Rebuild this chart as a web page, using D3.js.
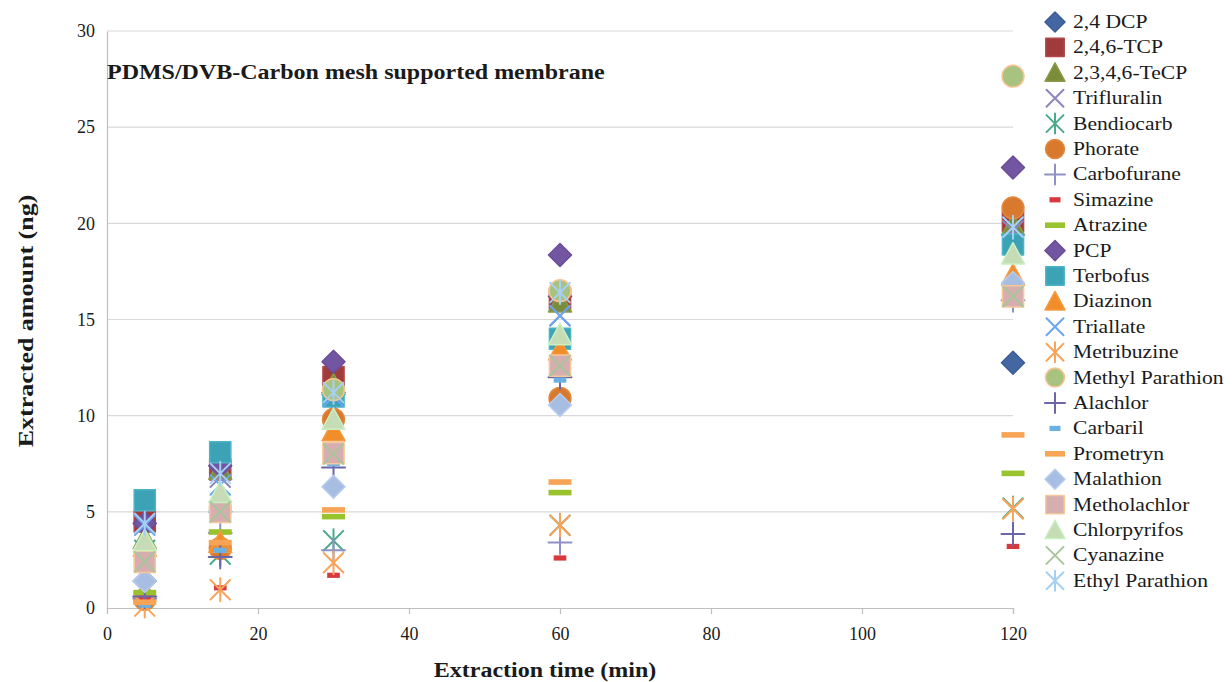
<!DOCTYPE html>
<html>
<head>
<meta charset="utf-8">
<script src="https://cdn.jsdelivr.net/npm/d3@7"></script>
<style>
  html, body { margin: 0; padding: 0; background: #fff; }
  svg { display: block; }
</style>
</head>
<body>
<svg id="chart" width="1232" height="682"></svg>
<script>
// Extraction times (min)
const times = [5, 15, 30, 60, 120];
const xTicks = [0, 20, 40, 60, 80, 100, 120];
const yTicks = [0, 5, 10, 15, 20, 25, 30];

// Extracted amount (ng) per analyte at each extraction time
const dcp24          = [1.4, 5.0, 11.2, 16.2, 12.75];
const tcp246         = [4.5, 7.2, 12.0, 16.1, 20.1];
const tecp2346       = [3.6, 7.2, 11.6, 15.9, 19.9];
const trifluralin    = [4.4, 6.8, 10.5, 15.2, 19.6];
const bendiocarb     = [3.0, 2.8, 3.5, 4.3, 5.2];
const phorate        = [0.45, 3.1, 9.8, 10.9, 20.8];
const carbofurane    = [0.5, 3.9, 3.0, 3.4, 16.0];
const simazine       = [0.5, 1.05, 1.7, 2.6, 3.2];
const atrazine       = [0.8, 3.95, 4.75, 6.0, 7.0];
const pcp            = [4.4, 7.4, 12.8, 18.35, 22.9];
const terbofus       = [5.6, 8.1, 11.0, 14.0, 18.9];
const diazinon       = [3.2, 3.4, 9.2, 13.4, 17.3];
const triallate      = [4.3, 6.4, 11.0, 15.2, 19.8];
const metribuzine    = [0.1, 0.95, 2.35, 4.3, 5.15];
const methylParathion= [2.9, 5.2, 11.35, 16.5, 27.65];
const alachlor       = [0.6, 2.65, 7.3, 12.0, 3.85];
const carbaril       = [0.15, 3.0, 7.5, 11.85, 16.8];
const prometryn      = [0.3, 3.4, 5.1, 6.55, 9.0];
const malathion      = [1.4, 5.0, 6.3, 10.55, 16.9];
const metholachlor   = [2.4, 5.0, 8.05, 12.6, 16.2];
const chlorpyrifos   = [3.5, 6.0, 9.8, 14.2, 18.4];
const cyanazine      = [2.4, 5.0, 8.0, 12.6, 16.2];
const ethylParathion = [4.4, 7.0, 11.2, 16.4, 19.8];

const seriesNames = ["2,4 DCP", "2,4,6-TCP", "2,3,4,6-TeCP", "Trifluralin", "Bendiocarb",
  "Phorate", "Carbofurane", "Simazine", "Atrazine", "PCP", "Terbofus", "Diazinon",
  "Triallate", "Metribuzine", "Methyl Parathion", "Alachlor", "Carbaril", "Prometryn",
  "Malathion", "Metholachlor", "Chlorpyrifos", "Cyanazine", "Ethyl Parathion"];
const seriesValues = [dcp24, tcp246, tecp2346, trifluralin, bendiocarb, phorate, carbofurane,
  simazine, atrazine, pcp, terbofus, diazinon, triallate, metribuzine, methylParathion,
  alachlor, carbaril, prometryn, malathion, metholachlor, chlorpyrifos, cyanazine, ethylParathion];

// Marker look for each series (same order as seriesNames)
const markerStyles = [
  { shape: "diamond",  fill: "#4467a3", stroke: "#3b5c96" },
  { shape: "square",   fill: "#a13a3b", stroke: "#b04a4a" },
  { shape: "triangle", fill: "#7b8d3a", stroke: "#8a9a4a" },
  { shape: "x",        stroke: "#8d85bd" },
  { shape: "asterisk", stroke: "#4aa98a" },
  { shape: "circle",   fill: "#d9792d", stroke: "#e08a40" },
  { shape: "plus",     stroke: "#8f91c6" },
  { shape: "dashS",    fill: "#d8393e" },
  { shape: "dashL",    fill: "#99c32d" },
  { shape: "diamond",  fill: "#7256a1", stroke: "#6a4e98" },
  { shape: "square",   fill: "#3ca2b6", stroke: "#4cb4c8" },
  { shape: "triangle", fill: "#f18d2b", stroke: "#f59c40" },
  { shape: "x",        stroke: "#6aa6f0" },
  { shape: "asterisk", stroke: "#f8a45a" },
  { shape: "circle",   fill: "#a8c27f", stroke: "#f8c493" },
  { shape: "plus",     stroke: "#6a66a8" },
  { shape: "dashS",    fill: "#6bb2e3" },
  { shape: "dashL",    fill: "#f7a456" },
  { shape: "diamond",  fill: "#a7bde2", stroke: "#b8ccee" },
  { shape: "square",   fill: "#d7aeb0", stroke: "#f6c899" },
  { shape: "triangle", fill: "#c6dcb6", stroke: "#c9f0c0" },
  { shape: "x",        stroke: "#a6c69a" },
  { shape: "asterisk", stroke: "#a6cff4" }
];

const FONT = '"Liberation Serif", "Times New Roman", Times, serif';
const TEXT_COLOR = "#1a1a1a";

const svg = d3.select("#chart");
const plot = { left: 107, right: 1013, top: 31, bottom: 608 };

const x = d3.scaleLinear().domain([0, 120]).range([plot.left, plot.right]);
const y = d3.scaleLinear().domain([0, 30]).range([plot.bottom, plot.top]);

// Horizontal gridlines
svg.append("g")
  .selectAll("line")
  .data(yTicks.filter(d => d > 0))
  .join("line")
  .attr("x1", plot.left).attr("x2", plot.right)
  .attr("y1", d => y(d)).attr("y2", d => y(d))
  .attr("stroke", "#d9d9d9").attr("stroke-width", 1.2);

// X axis
const xAxis = svg.append("g")
  .attr("transform", `translate(0,${plot.bottom})`)
  .call(d3.axisBottom(x).tickValues(xTicks).tickSize(6).tickPadding(13).tickFormat(d3.format("d")));
xAxis.select(".domain").attr("stroke", "#bfbfbf").attr("stroke-width", 1.2);
xAxis.selectAll(".tick line").attr("stroke", "#bfbfbf").attr("stroke-width", 1.2);
xAxis.selectAll(".tick text")
  .style("font-family", FONT).style("font-size", "18px").attr("fill", TEXT_COLOR);

// Y axis
const yAxis = svg.append("g")
  .attr("transform", `translate(${plot.left},0)`)
  .call(d3.axisLeft(y).tickValues(yTicks).tickSize(0).tickPadding(12).tickFormat(d3.format("d")));
yAxis.select(".domain").attr("stroke", "#bfbfbf").attr("stroke-width", 1.2);
yAxis.selectAll(".tick text")
  .style("font-family", FONT).style("font-size", "18px").attr("fill", TEXT_COLOR);

// Marker path builder
function markerPath(shape, s) {
  const p = d3.path();
  switch (shape) {
    case "diamond":
      p.moveTo(0, -s); p.lineTo(s, 0); p.lineTo(0, s); p.lineTo(-s, 0); p.closePath(); break;
    case "square": {
      const h = s * 0.92;
      p.rect(-h, -h, 2 * h, 2 * h); break;
    }
    case "triangle":
      p.moveTo(0, -s); p.lineTo(s, s * 0.85); p.lineTo(-s, s * 0.85); p.closePath(); break;
    case "circle":
      p.arc(0, 0, s * 0.95, 0, 2 * Math.PI); break;
    case "x": {
      const h = s * 0.85;
      p.moveTo(-h, -h); p.lineTo(h, h); p.moveTo(h, -h); p.lineTo(-h, h); break;
    }
    case "asterisk": {
      const h = s * 0.85;
      p.moveTo(-h, -h); p.lineTo(h, h); p.moveTo(h, -h); p.lineTo(-h, h);
      p.moveTo(0, -s); p.lineTo(0, s); break;
    }
    case "plus":
      p.moveTo(-s, 0); p.lineTo(s, 0); p.moveTo(0, -s); p.lineTo(0, s); break;
    case "dashS":
      p.rect(-s * 0.55, -2.6, s * 1.1, 5.2); break;
    case "dashL":
      p.rect(-s, -2.8, 2 * s, 5.6); break;
  }
  return p.toString();
}

function drawMarker(sel, style, s) {
  const lineOnly = style.shape === "x" || style.shape === "asterisk" || style.shape === "plus";
  sel.append("path")
    .attr("d", markerPath(style.shape, s))
    .attr("fill", lineOnly ? "none" : style.fill)
    .attr("stroke", lineOnly ? style.stroke : (style.stroke || "none"))
    .attr("stroke-width", lineOnly ? 2 : 1.5)
    .attr("stroke-linejoin", "round")
    .attr("stroke-linecap", "round");
}

// Data markers
const marks = svg.append("g");
seriesValues.forEach((vals, i) => {
  const g = marks.append("g");
  vals.forEach((v, j) => {
    const m = g.append("g").attr("transform", `translate(${x(times[j])},${y(v)})`);
    drawMarker(m, markerStyles[i], 11.5);
  });
});

// Chart title inside the plot
svg.append("text")
  .attr("transform", `translate(107,79) scale(1.2,1)`)
  .style("font-family", FONT).style("font-size", "20px").style("font-weight", "bold")
  .attr("fill", TEXT_COLOR)
  .text("PDMS/DVB-Carbon mesh supported membrane");

// Axis titles
svg.append("text")
  .attr("transform", `translate(545,677) scale(1.2,1)`)
  .attr("text-anchor", "middle")
  .style("font-family", FONT).style("font-size", "20px").style("font-weight", "bold")
  .attr("fill", TEXT_COLOR)
  .text("Extraction time (min)");

svg.append("text")
  .attr("transform", `translate(33,321) rotate(-90) scale(1.3,1)`)
  .attr("text-anchor", "middle")
  .style("font-family", FONT).style("font-size", "20px").style("font-weight", "bold")
  .attr("fill", TEXT_COLOR)
  .text("Extracted amount (ng)");

// Legend
const legend = svg.append("g");
seriesNames.forEach((name, i) => {
  const yy = 22 + i * 25.4;
  const m = legend.append("g").attr("transform", `translate(1055,${yy})`);
  drawMarker(m, markerStyles[i], 10);
  legend.append("text")
    .attr("transform", `translate(1073,${yy + 6}) scale(1.2,1)`)
    .style("font-family", FONT).style("font-size", "18px")
    .attr("fill", TEXT_COLOR)
    .text(name);
});
</script>
</body>
</html>
